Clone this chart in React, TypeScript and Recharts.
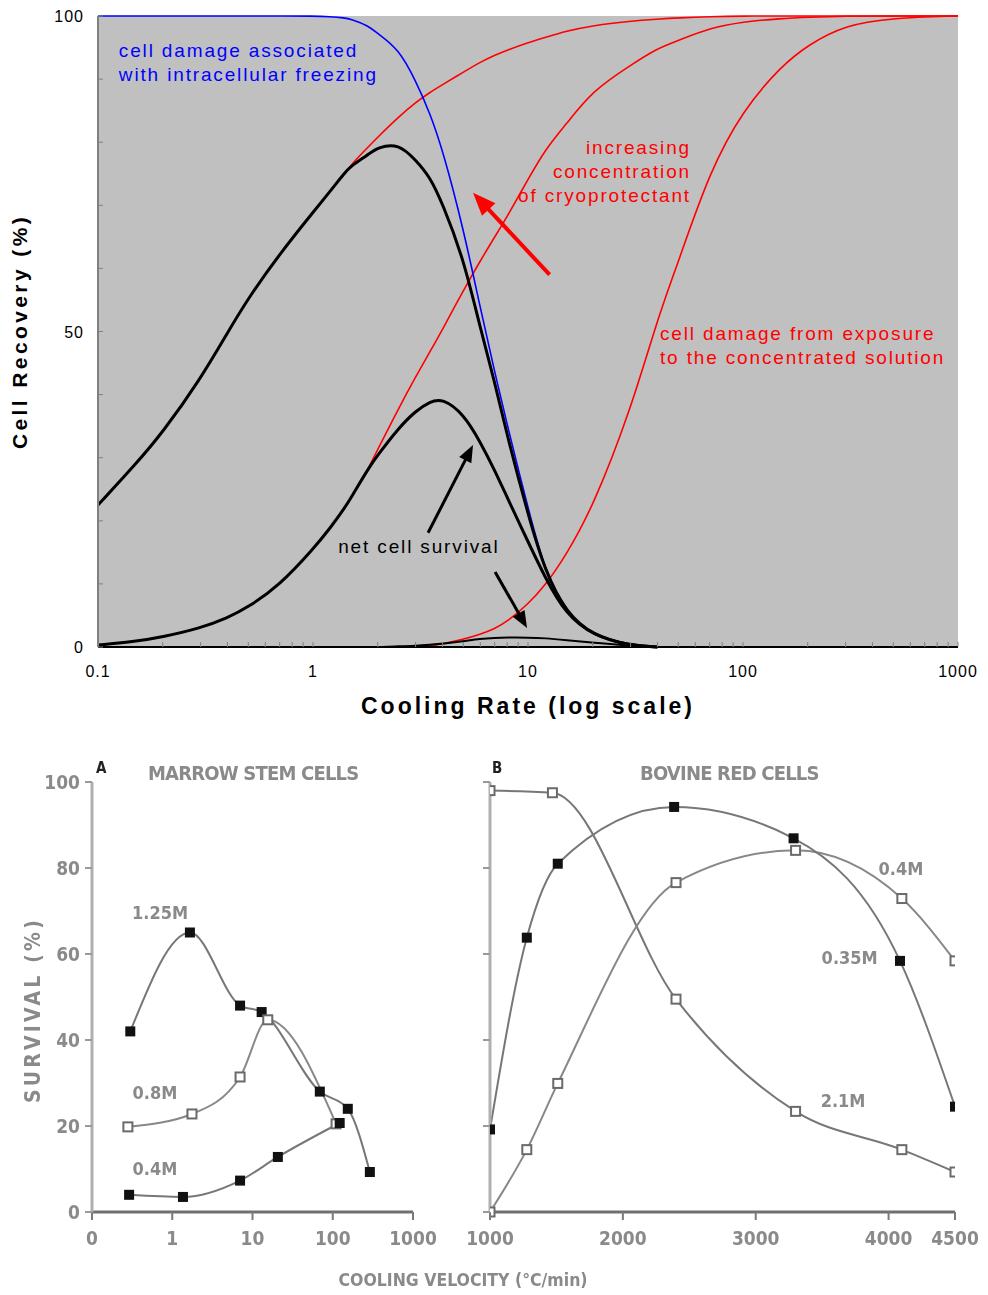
import React from "react";
import {
  LineChart,
  Line,
  XAxis,
  YAxis,
  CartesianGrid,
  ReferenceLine,
  ReferenceDot,
} from "recharts";

// ---------- top panel: cell recovery vs cooling rate (log) ----------
const coolingRates = [
  0.1, 0.15, 0.2, 0.3, 0.4, 0.5, 0.7, 1, 1.2, 1.4, 1.5, 1.8, 2, 2.5, 3, 3.5, 4,
  5, 6, 7, 8, 10, 12, 15, 20, 30, 40, 50, 70, 100, 150, 200, 300, 500, 1000,
];

const intracellularFreezing = [
  100, 100, 100, 100, 100, 100, 100, 100, 99.9, 99.7, 99.5, 98.5, 97.2, 94.8,
  89.8, 84.6, 78.9, 66.4, 53.7, 43.6, 35.2, 22, 12, 5.5, 1.8, 0.3, 0,
  null, null, null, null, null, null, null, null,
];

const solutionLow = [
  null, null, null, null, null, null, null, null, null, 75, 76.4, 79.2, 80.8,
  84, 86.3, 87.9, 89.1, 91.1, 92.7, 93.8, 94.6, 95.8, 96.6, 97.6, 98.5, 99.2,
  99.5, 99.7, 99.9, 100, 100, 100, 100, 100, 100,
];
const solutionMid = [
  null, null, null, null, null, null, null, null, null, null, null, 28.2, 31.3,
  37.8, 42.8, 46.8, 50.3, 56.5, 61.2, 65, 68.2, 74.1, 78.8, 82.8, 88.2, 92.2,
  94.9, 96.1, 98.1, 99.1, 99.6, 99.8, 100, 100, 100,
];
const solutionHigh = [
  null, null, null, null, null, null, null, null, null, null, null, null, null,
  null, 0, 0.2, 0.5, 1.2, 2, 2.9, 4, 6.8, 9.7, 14.5, 22.1, 37.5, 52, 61, 75.4,
  85.1, 92, 95.4, 98.6, 99.7, 100,
];

const survivalHigh = [
  22.5, 29, 34, 42.5, 49.8, 55.3, 62.3, 68.9, 72.2, 75.1, 76.2, 78, 79.2, 79.8,
  77.2, 74.5, 70.3, 61.7, 50.5, 42, 33.5, 21, 12, 5.5, 1.8, 0.2, 0,
  null, null, null, null, null, null, null, null,
];
const survivalMid = [
  0.3, 0.9, 1.6, 3, 4.6, 6.3, 9.8, 15.5, 18.8, 22, 23.6, 28.2, 30.4, 34.7,
  37.4, 38.9, 39.4, 37, 32.5, 28, 23.7, 16.7, 11, 5.2, 1.8, 0.2, 0,
  null, null, null, null, null, null, null, null,
];
const survivalLow = [
  null, null, null, null, null, null, null, null, null, null, null, null, 0,
  0.1, 0.2, 0.35, 0.5, 0.9, 1.3, 1.45, 1.5, 1.5, 1.4, 1.1, 0.7, 0.2, 0,
  null, null, null, null, null, null, null, null,
];

const rateDecades = [0.1, 1, 10, 100, 1000];
const rateDecadeLabels = ["0.1", "1", "10", "100", "1000"];
const rateMinor = [
  0.2, 0.3, 0.4, 0.5, 0.6, 0.7, 0.8, 0.9, 2, 3, 4, 5, 6, 7, 8, 9, 20, 30, 40,
  50, 60, 70, 80, 90, 200, 300, 400, 500, 600, 700, 800, 900,
];
const recoveryTicks = [0, 10, 20, 30, 40, 50, 60, 70, 80, 90, 100];
const recoveryLabels = [0, 50, 100];

const notes = [
  { x: 0.125, y: 94.6, lines: ["cell damage associated", "with intracellular freezing"], color: "#0000ff", anchor: "start" },
  { x: 57.3, y: 79.2, lines: ["increasing", "concentration", "of cryoprotectant"], color: "#ff0000", anchor: "end" },
  { x: 41.1, y: 49.8, lines: ["cell damage from exposure", "to the concentrated solution"], color: "#ff0000", anchor: "start" },
  { x: 1.31, y: 16, lines: ["net cell survival"], color: "#000000", anchor: "start" },
];

const arrows = [
  { from: { x: 12.6, y: 59 }, to: { x: 5.55, y: 72 }, color: "#ff0000", width: 4, head: 23 },
  { from: { x: 3.43, y: 18.1 }, to: { x: 5.55, y: 32 }, color: "#000000", width: 3, head: 17 },
  { from: { x: 7.03, y: 11.9 }, to: { x: 9.9, y: 3 }, color: "#000000", width: 3, head: 17 },
];

// ---------- bottom panels (scanned figure) ----------
const marrowRates125 = [0.3, 1.66, 7, 13, 69, 154, 290];
const marrowSurv125 = [42, 65, 48, 46.5, 28, 24, 9.3];
const marrowRates08 = [0.28, 1.76, 7, 15.5, 110];
const marrowSurv08 = [19.8, 22.8, 31.4, 44.7, 20.5];
const marrowRates04 = [0.29, 1.36, 7, 20.7, 122];
const marrowSurv04 = [4, 3.5, 7.3, 12.8, 20.7];
const marrowTicks = [0.1, 1, 10, 100, 1000];
const marrowTickLabels = ["0", "1", "10", "100", "1000"];

const bovineRates21 = [1000, 1470, 2400, 3300, 4100, 4500];
const bovineSurv21 = [98, 97.5, 49.5, 23.4, 14.5, 9.3];
const bovineRates035 = [1000, 1277, 1510, 2386, 3285, 4086, 4500];
const bovineSurv035 = [19.2, 63.8, 81, 94.2, 86.9, 58.4, 24.5];
const bovineRates04 = [1000, 1277, 1510, 2400, 3300, 4100, 4500];
const bovineSurv04 = [0, 14.5, 29.9, 76.6, 84.1, 72.9, 58.4];
const bovineTicks = [1000, 2000, 3000, 4000, 4500];
const survivalTicks = [0, 20, 40, 60, 80, 100];

const marrowNotes = [
  { x: 0.315, y: 69.8, text: "1.25M" },
  { x: 0.32, y: 27.9, text: "0.8M" },
  { x: 0.32, y: 10.2, text: "0.4M" },
];
const bovineNotes = [
  { x: 3924, y: 80, text: "0.4M" },
  { x: 3496, y: 59.3, text: "0.35M" },
  { x: 3489, y: 26, text: "2.1M" },
];

const SANS = "'Liberation Sans', Arial, sans-serif";
const NARROW = "'Liberation Sans Narrow', 'DejaVu Sans Condensed', sans-serif";
const SCAN = "#8a8a8a";

const rows = (vals: (number | null)[]) =>
  coolingRates.map((r, i) => ({ r, s: vals[i] })).filter((d) => d.s !== null);

const pairs = (xs: number[], ys: number[]) => xs.map((r, i) => ({ r, s: ys[i] }));

function RateTick({ x, y, payload }: any) {
  const i = rateDecades.indexOf(payload.value);
  return (
    <g>
      <line x1={x} y1={y} x2={x} y2={y - 5} stroke="#808080" />
      {i >= 0 && (
        <text x={x} y={y + 30} textAnchor="middle" fontSize={16} letterSpacing={1} fontFamily={SANS} fill="#000">
          {rateDecadeLabels[i]}
        </text>
      )}
    </g>
  );
}

function RecoveryTick({ x, y, payload }: any) {
  return (
    <g>
      <line x1={x} y1={y} x2={x + 5} y2={y} stroke="#808080" />
      {recoveryLabels.includes(payload.value) && (
        <text x={x - 14} y={y + 6} textAnchor="end" fontSize={16} letterSpacing={1} fontFamily={SANS} fill="#000">
          {payload.value}
        </text>
      )}
    </g>
  );
}

const arrowShape = (color: string, w: number, head: number) => (p: any) => {
  const { x1, y1, x2, y2 } = p;
  const dx = x2 - x1;
  const dy = y2 - y1;
  const len = Math.hypot(dx, dy) || 1;
  const ux = dx / len;
  const uy = dy / len;
  const bx = x2 - ux * head;
  const by = y2 - uy * head;
  const hw = head * 0.4;
  return (
    <g>
      <line x1={x1} y1={y1} x2={bx + ux * 2} y2={by + uy * 2} stroke={color} strokeWidth={w} />
      <polygon
        points={`${x2},${y2} ${bx - uy * hw},${by + ux * hw} ${bx + uy * hw},${by - ux * hw}`}
        fill={color}
      />
    </g>
  );
};

function TopChart() {
  return (
    <LineChart width={988} height={730} margin={{ top: 16, right: 30, bottom: 8, left: 0 }}>
      <CartesianGrid horizontal={false} vertical={false} fill="#c0c0c0" />
      <XAxis
        dataKey="r"
        type="number"
        scale="log"
        domain={[0.1, 1000]}
        allowDataOverflow
        ticks={[...rateDecades, ...rateMinor]}
        interval={0}
        tickSize={0}
        tickMargin={0}
        tick={<RateTick />}
        height={75}
        axisLine={{ stroke: "#000", strokeWidth: 2 }}
        label={{
          value: "Cooling Rate (log scale)",
          position: "insideBottom",
          offset: 8,
          style: { fontSize: 23, fontWeight: 700, letterSpacing: 3, fontFamily: SANS, fill: "#000" },
        }}
      />
      <XAxis xAxisId="top" orientation="top" type="number" domain={[0, 1]} height={0} tick={false} tickLine={false} axisLine={{ stroke: "#8a8a8a" }} />
      <YAxis
        type="number"
        domain={[0, 100]}
        ticks={recoveryTicks}
        interval={0}
        tickSize={0}
        tickMargin={0}
        tick={<RecoveryTick />}
        width={98}
        axisLine={{ stroke: "#808080", strokeWidth: 2 }}
        label={{
          value: "Cell Recovery (%)",
          angle: -90,
          position: "insideLeft",
          offset: 20,
          style: { textAnchor: "middle", fontSize: 21, fontWeight: 700, letterSpacing: 3.4, fontFamily: SANS, fill: "#000" },
        }}
      />
      <YAxis yAxisId="right" orientation="right" type="number" domain={[0, 1]} width={0} tick={false} tickLine={false} axisLine={{ stroke: "#8a8a8a" }} />

      <Line data={rows(solutionLow)} dataKey="s" type="basis" stroke="#ff0000" strokeWidth={1.6} dot={false} isAnimationActive={false} />
      <Line data={rows(solutionMid)} dataKey="s" type="basis" stroke="#ff0000" strokeWidth={1.6} dot={false} isAnimationActive={false} />
      <Line data={rows(solutionHigh)} dataKey="s" type="basis" stroke="#ff0000" strokeWidth={1.6} dot={false} isAnimationActive={false} />
      <Line data={rows(intracellularFreezing)} dataKey="s" type="basis" stroke="#0000ff" strokeWidth={1.6} dot={false} isAnimationActive={false} />
      <Line data={rows(survivalLow)} dataKey="s" type="basis" stroke="#000" strokeWidth={2} dot={false} isAnimationActive={false} />
      <Line data={rows(survivalMid)} dataKey="s" type="basis" stroke="#000" strokeWidth={3} dot={false} isAnimationActive={false} />
      <Line data={rows(survivalHigh)} dataKey="s" type="basis" stroke="#000" strokeWidth={3} dot={false} isAnimationActive={false} />

      {arrows.map((a, i) => (
        <ReferenceLine key={`arrow-${i}`} segment={[a.from, a.to]} ifOverflow="visible" shape={arrowShape(a.color, a.width, a.head)} />
      ))}
      {notes.map((n, i) => (
        <ReferenceDot
          key={`note-${i}`}
          x={n.x}
          y={n.y}
          r={0}
          ifOverflow="visible"
          shape={(p: any) => (
            <text x={p.cx} y={p.cy} fill={n.color} textAnchor={n.anchor as any} fontSize={19} letterSpacing={1.85} fontFamily={SANS}>
              {n.lines.map((t, j) => (
                <tspan key={j} x={p.cx} dy={j === 0 ? 7 : 24}>
                  {t}
                </tspan>
              ))}
            </text>
          )}
        />
      ))}
    </LineChart>
  );
}

const filledSquare = (name: string) => (p: any) => (
  <rect key={`${name}-${p.index}`} x={p.cx - 5} y={p.cy - 5} width={10} height={10} fill="#111" />
);
const openSquare = (name: string) => (p: any) => (
  <rect key={`${name}-${p.index}`} x={p.cx - 4.5} y={p.cy - 4.5} width={9} height={9} fill="#fff" stroke="#6a6a6a" strokeWidth={2} />
);

function SurvivalTick({ x, y, payload }: any) {
  return (
    <g>
      <line x1={x - 7} y1={y} x2={x} y2={y} stroke="#9a9a9a" strokeWidth={2} />
      <text x={x - 12} y={y + 7} textAnchor="end" fontSize={19} fontWeight={700} fontFamily={NARROW} fill={SCAN}>
        {payload.value}
      </text>
    </g>
  );
}
function BareSurvivalTick({ x, y }: any) {
  return <line x1={x - 7} y1={y} x2={x} y2={y} stroke="#9a9a9a" strokeWidth={2} />;
}
function MarrowTick({ x, y, payload }: any) {
  const i = marrowTicks.indexOf(payload.value);
  return (
    <g>
      <line x1={x} y1={y} x2={x} y2={y + 8} stroke="#7a7a7a" strokeWidth={2} />
      <text x={x} y={y + 33} textAnchor="middle" fontSize={19} fontWeight={700} fontFamily={NARROW} fill={SCAN}>
        {marrowTickLabels[i]}
      </text>
    </g>
  );
}
function BovineTick({ x, y, payload }: any) {
  return (
    <g>
      <line x1={x} y1={y} x2={x} y2={y + 8} stroke="#7a7a7a" strokeWidth={2} />
      <text x={x} y={y + 33} textAnchor="middle" fontSize={19} fontWeight={700} fontFamily={NARROW} fill={SCAN}>
        {payload.value}
      </text>
    </g>
  );
}

const curveLabel = (key: string, n: { x: number; y: number; text: string }) => (
  <ReferenceDot
    key={key}
    x={n.x}
    y={n.y}
    r={0}
    ifOverflow="visible"
    shape={(p: any) => (
      <text x={p.cx} y={p.cy + 7} fontSize={18} fontWeight={700} fontFamily={NARROW} fill={SCAN}>
        {n.text}
      </text>
    )}
  />
);

function MarrowChart() {
  return (
    <LineChart width={440} height={555} margin={{ top: 42, right: 27, bottom: 13, left: 0 }}>
      <XAxis
        dataKey="r"
        type="number"
        scale="log"
        domain={[0.1, 1000]}
        allowDataOverflow
        ticks={marrowTicks}
        interval={0}
        tickSize={0}
        tickMargin={0}
        tick={<MarrowTick />}
        height={70}
        axisLine={{ stroke: "#707070", strokeWidth: 3 }}
      />
      <YAxis
        type="number"
        domain={[0, 100]}
        ticks={survivalTicks}
        interval={0}
        tickSize={0}
        tickMargin={0}
        tick={<SurvivalTick />}
        width={92}
        axisLine={{ stroke: "#b0b0b0", strokeWidth: 3 }}
      />
      <Line data={pairs(marrowRates125, marrowSurv125)} dataKey="s" type="monotone" stroke="#777" strokeWidth={2} dot={filledSquare("m125")} isAnimationActive={false} />
      <Line data={pairs(marrowRates08, marrowSurv08)} dataKey="s" type="monotone" stroke="#888" strokeWidth={2} dot={openSquare("m08")} isAnimationActive={false} />
      <Line data={pairs(marrowRates04, marrowSurv04)} dataKey="s" type="monotone" stroke="#777" strokeWidth={2} dot={filledSquare("m04")} isAnimationActive={false} />
      {marrowNotes.map((n, i) => curveLabel(`mn-${i}`, n))}
    </LineChart>
  );
}

function BovineChart() {
  return (
    <LineChart width={548} height={555} margin={{ top: 42, right: 33, bottom: 13, left: 0 }}>
      <XAxis
        dataKey="r"
        type="number"
        domain={[1000, 4500]}
        allowDataOverflow
        ticks={bovineTicks}
        interval={0}
        tickSize={0}
        tickMargin={0}
        tick={<BovineTick />}
        height={70}
        axisLine={{ stroke: "#707070", strokeWidth: 3 }}
      />
      <YAxis
        type="number"
        domain={[0, 100]}
        ticks={survivalTicks}
        interval={0}
        tickSize={0}
        tickMargin={0}
        tick={<BareSurvivalTick />}
        width={50}
        axisLine={{ stroke: "#b0b0b0", strokeWidth: 3 }}
      />
      <Line data={pairs(bovineRates21, bovineSurv21)} dataKey="s" type="monotone" stroke="#777" strokeWidth={2} dot={openSquare("b21")} isAnimationActive={false} />
      <Line data={pairs(bovineRates04, bovineSurv04)} dataKey="s" type="monotone" stroke="#888" strokeWidth={2} dot={openSquare("b04")} isAnimationActive={false} />
      <Line data={pairs(bovineRates035, bovineSurv035)} dataKey="s" type="monotone" stroke="#777" strokeWidth={2} dot={filledSquare("b035")} isAnimationActive={false} />
      {bovineNotes.map((n, i) => curveLabel(`bn-${i}`, n))}
    </LineChart>
  );
}

const scanText: React.CSSProperties = {
  position: "absolute",
  fontFamily: NARROW,
  fontWeight: 700,
  color: SCAN,
  whiteSpace: "nowrap",
  lineHeight: 1,
};

export default function App() {
  return (
    <div style={{ position: "absolute", left: 0, top: 0, width: 988, height: 1295, background: "#fff" }}>
      <div style={{ position: "absolute", left: 0, top: 0 }}>
        <TopChart />
      </div>
      <div style={{ position: "absolute", left: 0, top: 0, width: 988, height: 1295, filter: "blur(0.5px)" }}>
        <div style={{ position: "absolute", left: 0, top: 740 }}>
          <MarrowChart />
        </div>
        <div style={{ position: "absolute", left: 440, top: 740 }}>
          <BovineChart />
        </div>
        <div style={{ ...scanText, left: 96, top: 761, fontSize: 15, color: "#222" }}>A</div>
        <div style={{ ...scanText, left: 148, top: 763, fontSize: 20, letterSpacing: -0.8 }}>MARROW STEM CELLS</div>
        <div style={{ ...scanText, left: 492, top: 761, fontSize: 15, color: "#222" }}>B</div>
        <div style={{ ...scanText, left: 640, top: 763, fontSize: 20, letterSpacing: -0.8 }}>BOVINE RED CELLS</div>
        <div style={{ ...scanText, left: 33, top: 1010, fontSize: 21, letterSpacing: 3.2, transform: "translate(-50%, -50%) rotate(-90deg)" }}>
          SURVIVAL (%)
        </div>
        <div style={{ ...scanText, left: 463, top: 1281, fontSize: 17.5, transform: "translate(-50%, -50%)" }}>
          COOLING VELOCITY (°C/min)
        </div>
      </div>
    </div>
  );
}
